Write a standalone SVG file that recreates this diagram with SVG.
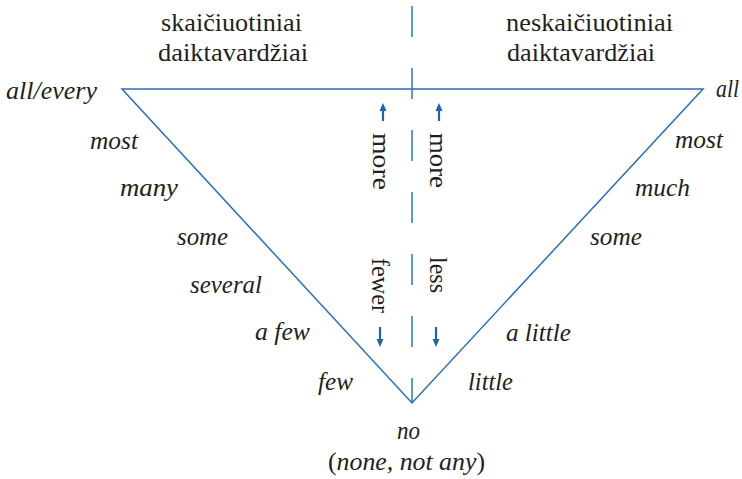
<svg xmlns="http://www.w3.org/2000/svg" width="742" height="479" viewBox="0 0 742 479">
<style>
text{font-family:"Liberation Serif","Times New Roman",serif;fill:#231f20;}
.h{font-size:25px;}
.i{font-size:25px;font-style:italic;}
.r{font-size:26px;}
.tri{fill:none;stroke:#2a6db5;stroke-width:1.5;stroke-linejoin:miter;}
.dash{stroke:#5b9bd5;stroke-width:2;stroke-dasharray:31 31;fill:none;}
.arr{stroke:#1a66b3;stroke-width:2.2;fill:none;}
.head{fill:#1a66b3;}
</style>
<rect width="742" height="479" fill="#fff"/>
<g id="connectors">
<line class="dash" x1="412" y1="6" x2="412" y2="403"/>
<path class="tri" d="M122,89 L703,89 L412,403 Z"/>
</g>
<g id="arrows">
<line class="arr" x1="383" y1="110" x2="383" y2="121"/>
<polygon class="head" points="383,103 379.5,111 386.5,111"/>
<line class="arr" x1="439" y1="110" x2="439" y2="121"/>
<polygon class="head" points="439,103 435.5,111 442.5,111"/>
<line class="arr" x1="380" y1="327" x2="380" y2="340"/>
<polygon class="head" points="380,347 376.5,339 383.5,339"/>
<line class="arr" x1="436" y1="327" x2="436" y2="340"/>
<polygon class="head" points="436,347 432.5,339 439.5,339"/>
</g>
<g id="header-left">
<text class="h" x="161" y="31" textLength="141" lengthAdjust="spacingAndGlyphs">skaičiuotiniai</text>
<text class="h" x="158" y="61" textLength="150" lengthAdjust="spacingAndGlyphs">daiktavardžiai</text>
</g>
<g id="header-right">
<text class="h" x="506" y="31" textLength="167" lengthAdjust="spacingAndGlyphs">neskaičiuotiniai</text>
<text class="h" x="507" y="61" textLength="148" lengthAdjust="spacingAndGlyphs">daiktavardžiai</text>
</g>
<g id="rotated">
<text class="r" transform="translate(373,133) rotate(90)" textLength="57" lengthAdjust="spacingAndGlyphs">more</text>
<text class="r" transform="translate(430,133) rotate(90)" textLength="55" lengthAdjust="spacingAndGlyphs">more</text>
<text class="r" transform="translate(372,258) rotate(90)" textLength="55" lengthAdjust="spacingAndGlyphs">fewer</text>
<text class="r" transform="translate(430,257) rotate(90)" textLength="36" lengthAdjust="spacingAndGlyphs">less</text>
</g>
<g id="left-labels">
<text class="i" x="6" y="99" textLength="91" lengthAdjust="spacingAndGlyphs">all/every</text>
<text class="i" x="90" y="149" textLength="48" lengthAdjust="spacingAndGlyphs">most</text>
<text class="i" x="120" y="196" textLength="58" lengthAdjust="spacingAndGlyphs">many</text>
<text class="i" x="177" y="245" textLength="51" lengthAdjust="spacingAndGlyphs">some</text>
<text class="i" x="190" y="293" textLength="72" lengthAdjust="spacingAndGlyphs">several</text>
<text class="i" x="255" y="340" textLength="55" lengthAdjust="spacingAndGlyphs">a few</text>
<text class="i" x="318" y="390" textLength="35" lengthAdjust="spacingAndGlyphs">few</text>
</g>
<g id="right-labels">
<text class="i" x="716" y="97" textLength="23" lengthAdjust="spacingAndGlyphs">all</text>
<text class="i" x="675" y="148" textLength="48" lengthAdjust="spacingAndGlyphs">most</text>
<text class="i" x="635" y="196" textLength="55" lengthAdjust="spacingAndGlyphs">much</text>
<text class="i" x="590" y="245" textLength="52" lengthAdjust="spacingAndGlyphs">some</text>
<text class="i" x="506" y="341" textLength="65" lengthAdjust="spacingAndGlyphs">a little</text>
<text class="i" x="468" y="390" textLength="45" lengthAdjust="spacingAndGlyphs">little</text>
</g>
<g id="bottom">
<text class="i" x="397" y="439" textLength="23" lengthAdjust="spacingAndGlyphs">no</text>
<text class="h" x="328" y="470" textLength="157" lengthAdjust="spacingAndGlyphs">(<tspan font-style="italic">none, not any</tspan>)</text>
</g>
</svg>
